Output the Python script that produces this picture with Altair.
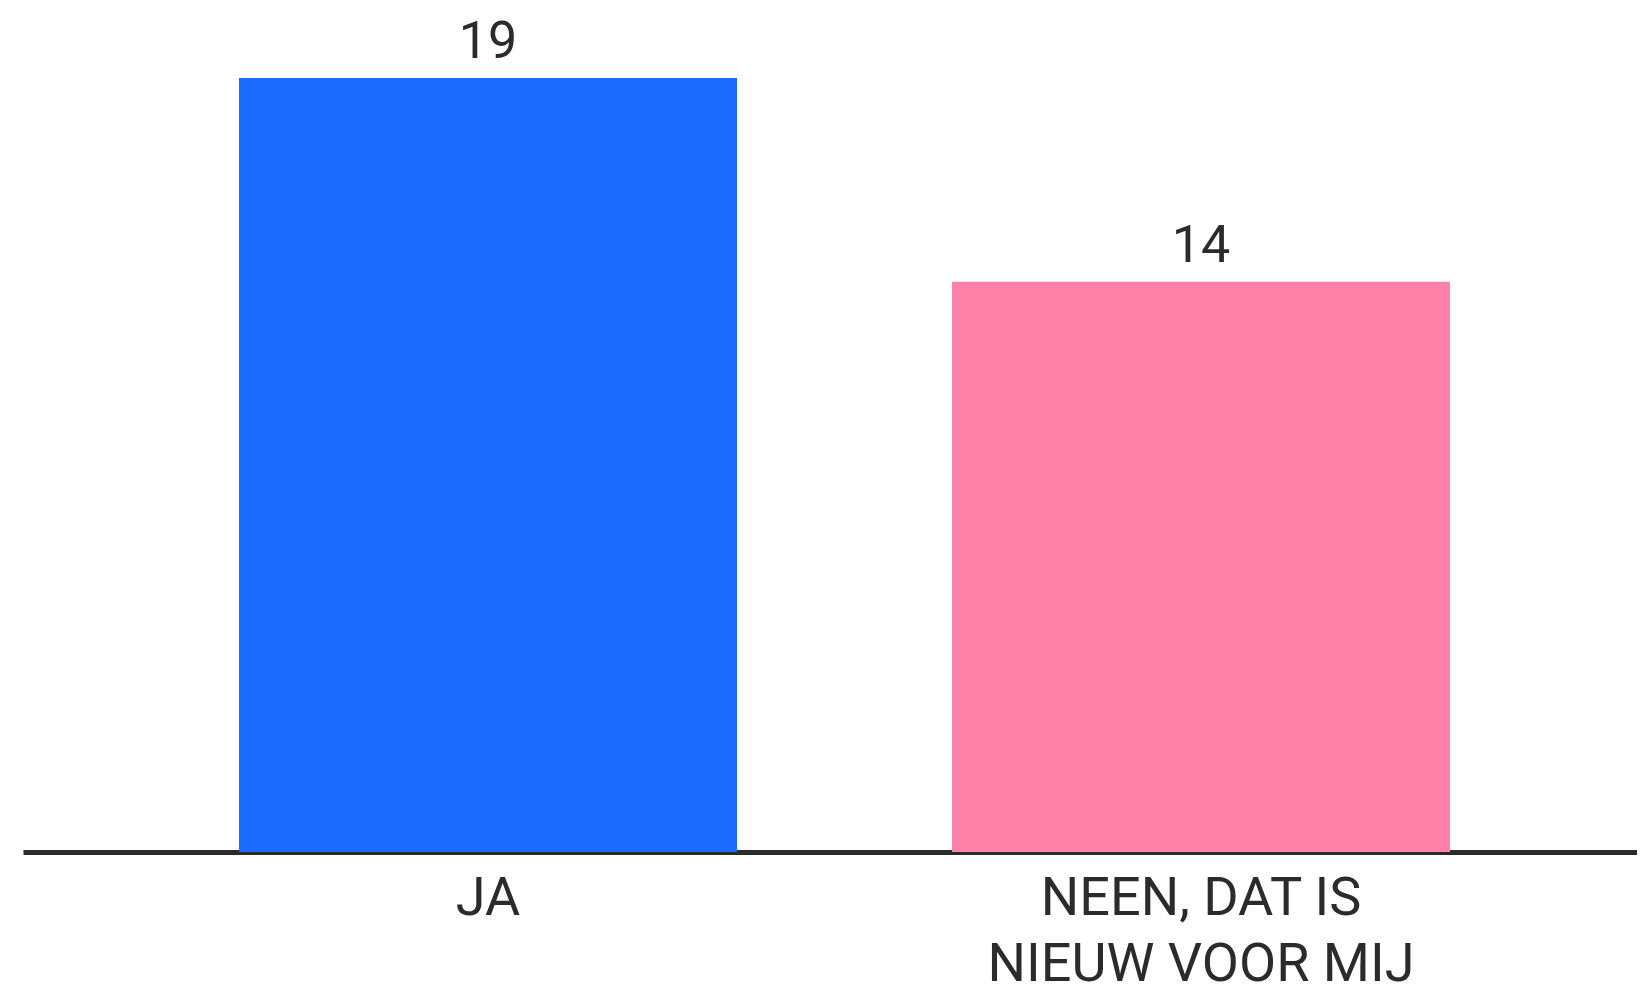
import altair as alt
import pandas as pd

categories = ["JA", "NEEN, DAT IS NIEUW VOOR MIJ"]
label_lines = [["JA"], ["NEEN, DAT IS", "NIEUW VOOR MIJ"]]
values = [19, 14]
colors = ["#1B6BFF", "#FF80A9"]

df = pd.DataFrame({"cat": categories, "val": values, "col": colors})

# multi-line axis labels
expr_parts = []
for c, lines in zip(categories, label_lines):
    arr = "[" + ",".join("'" + l + "'" for l in lines) + "]"
    expr_parts.append(f"datum.value == '{c}' ? {arr}")
label_expr = " : ".join(expr_parts) + " : datum.value"

FONT = "Roboto"
TXT = "#2b2b2e"

base = alt.Chart(df).encode(
    x=alt.X(
        "cat:N",
        sort=categories,
        title=None,
        scale=alt.Scale(paddingInner=0.3015, paddingOuter=0.2826, align=0.536),
        axis=alt.Axis(labelExpr=label_expr),
    ),
    y=alt.Y("val:Q", scale=alt.Scale(domain=[0, 19], nice=False), axis=None),
)

bars = base.mark_bar().encode(color=alt.Color("col:N", scale=None, legend=None))

labels = base.mark_text(
    baseline="alphabetic", dy=-20, font=FONT, fontSize=52, color=TXT
).encode(text="val:Q")

chart = (
    alt.layer(bars, labels)
    .properties(
        width=1614,
        height=774,
        autosize=alt.AutoSizeParams(type="none"),
        padding={"left": 15, "top": 70, "right": 0, "bottom": 130},
        background="#FFFFFF",
    )
    .configure_view(strokeWidth=0, stroke="transparent")
    .configure_axisX(
        labelAngle=0,
        labelFont=FONT,
        labelFontSize=54,
        labelColor=TXT,
        labelLineHeight=66,
        labelPadding=19,
        labelBaseline="top",
        labelLimit=2000,
        labelOverlap=False,
        ticks=False,
        domainColor=TXT,
        domainWidth=5,
        grid=False,
    )
)

chart.save("out.html", embed_options={"renderer": "svg", "actions": False})
